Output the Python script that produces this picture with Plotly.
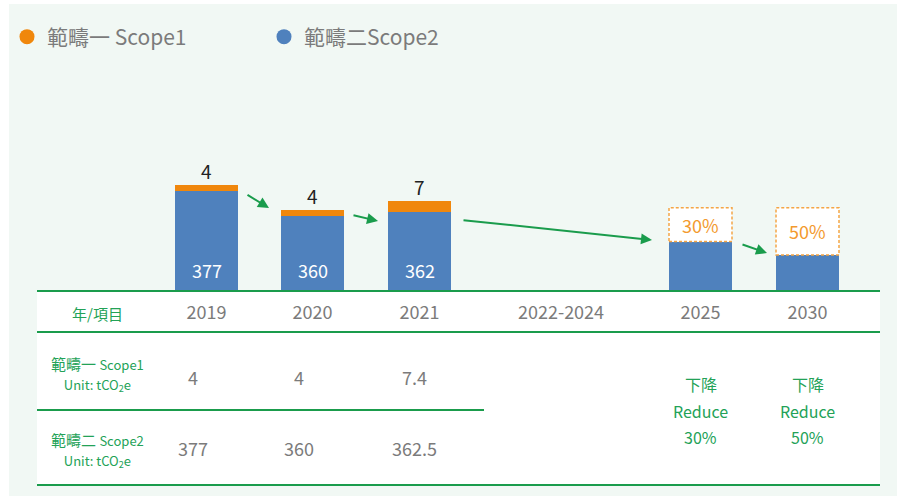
import plotly.graph_objects as go

# ---------------- data ----------------
years_hist = ["2019", "2020", "2021"]
scope1 = [4, 4, 7.4]
scope2 = [377, 360, 362.5]
period_labels = ["2019", "2020", "2021", "2022-2024", "2025", "2030"]
target_years = ["2025", "2030"]
target_pct = [30, 50]
target_scope2_bar = [343, 334]
target_band_top = [365.5, 365.5]
legend_names = ["範疇一 Scope1", "範疇二Scope2"]
row_names = ["範疇一", "範疇二"]
row_scopes = ["Scope1", "Scope2"]
unit_label = "Unit: tCO<sub>2</sub>e"
header_label = "年/項目"
reduce_words = ["下降", "Reduce"]

# ---------------- layout constants ----------------
W, H = 897, 496
COL_X = dict(zip(period_labels, [206.5, 312.5, 419.5, 561, 700.5, 807.5]))
VAL_X = dict(zip(years_hist, [193, 299, 414]))
BAR_W = 63
BASE_PX = 291
PX_PER_UNIT = 1.5
Y0 = 310

FONT = "Noto Sans CJK TC, Noto Sans, sans-serif"
BLUE = "#4f81bd"
ORANGE = "#f0870c"
ORANGE_LIGHT = "#f5a545"
GREEN = "#1a9c4c"
GREEN_TXT = "#23a257"
GRAY = "#7b7b7b"
BG = "#f1f8f4"


def px(x):
    return x / W


def py(y):
    return 1 - y / H


fig = go.Figure()

fig.add_trace(go.Bar(
    x=[COL_X[y] for y in years_hist + target_years],
    y=scope2 + target_scope2_bar,
    width=BAR_W, marker=dict(color=BLUE, line=dict(width=0)),
    showlegend=False, hoverinfo="skip"))
fig.add_trace(go.Bar(
    x=[COL_X[y] for y in years_hist],
    y=scope1,
    width=BAR_W, marker=dict(color=ORANGE, line=dict(width=0)),
    showlegend=False, hoverinfo="skip"))

for name, col in zip(legend_names, [ORANGE, BLUE]):
    fig.add_trace(go.Scatter(x=[None], y=[None], mode="markers", name=name,
                             marker=dict(size=15, color=col)))

shapes = []
# background panel
shapes.append(dict(type="rect", xref="paper", yref="paper", x0=px(9), x1=px(897),
                   y0=py(496), y1=py(4), fillcolor=BG, line=dict(width=0), layer="below"))
# table white area
shapes.append(dict(type="rect", xref="paper", yref="paper", x0=px(37), x1=px(880),
                   y0=py(485), y1=py(291), fillcolor="white", line=dict(width=0), layer="below"))
# table lines
for (xa, xb, yy) in [(37, 880, 291), (37, 880, 332), (37, 484, 410), (37, 880, 485)]:
    shapes.append(dict(type="line", xref="paper", yref="paper", x0=px(xa), x1=px(xb),
                       y0=py(yy), y1=py(yy), line=dict(color=GREEN, width=2), layer="above"))
# dashed target boxes
for yr, b, t in zip(target_years, target_scope2_bar, target_band_top):
    shapes.append(dict(type="rect", xref="x", yref="y",
                       x0=COL_X[yr] - BAR_W / 2, x1=COL_X[yr] + BAR_W / 2, y0=b, y1=t,
                       fillcolor="white", line=dict(color=ORANGE_LIGHT, width=1.5, dash="3px,2px")))

ann = []


def label(x, y, text, size, color, **kw):
    d = dict(x=x, y=y, text=text, showarrow=False, xanchor="center", yanchor="middle",
             font=dict(color=color, size=size, family=FONT))
    d.update(kw)
    ann.append(d)


# bar value labels
for yr, v in zip(years_hist, scope2):
    label(COL_X[yr], 0, f"{int(v)}", 18, "white", xref="x", yref="y domain", yshift=21)
for yr, v1, v2 in zip(years_hist, scope1, scope2):
    label(COL_X[yr], v1 + v2, f"{int(v1)}", 19, "#222222", xref="x", yref="y",
          yanchor="bottom", yshift=-1)
for yr, p, b, t in zip(target_years, target_pct, target_scope2_bar, target_band_top):
    label(COL_X[yr], (b + t) / 2, f"{p}%", 18, "#f39a2e", xref="x", yref="y")

# arrows (tail px, head px)
ARROWS = [((246, 194), (269, 208)), ((352, 215), (378, 221)),
          ((462, 220), (652, 240)), ((741, 244), (767, 253))]
for (tx, ty), (hx, hy) in ARROWS:
    ann.append(dict(x=px(hx), y=py(hy), xref="paper", yref="paper", ax=tx - hx, ay=ty - hy,
                    text="", showarrow=True, arrowhead=2, arrowsize=1.1, arrowwidth=2,
                    arrowcolor=GREEN))

# table texts
label(px(97), py(313), header_label, 15, GREEN_TXT, xref="paper", yref="paper")
for name, sc, yc in zip(row_names, row_scopes, [373.5, 449.5]):
    label(px(97), py(yc),
          f"{name} <span style='font-size:13px'>{sc}</span><br>"
          f"<span style='font-size:13px'>{unit_label}</span>",
          15, GREEN_TXT, xref="paper", yref="paper")
for row_vals, yy in [(scope1, 377), (scope2, 448)]:
    for yr, v in zip(years_hist, row_vals):
        label(px(VAL_X[yr]), py(yy), f"{v:g}", 18, GRAY, xref="paper", yref="paper")
for yr, p in zip(target_years, target_pct):
    for txt, yy in zip(reduce_words + [f"{p}%"], [384, 411, 437]):
        label(px(COL_X[yr]), py(yy), txt, 16, GREEN_TXT, xref="paper", yref="paper")

fig.update_layout(
    width=W, height=H, margin=dict(l=0, r=0, t=0, b=0),
    paper_bgcolor="white", plot_bgcolor="rgba(0,0,0,0)",
    barmode="relative", bargap=0,
    font=dict(family=FONT, color=GRAY),
    shapes=shapes, annotations=ann,
    legend=dict(orientation="h", x=px(7), xanchor="left", y=py(37), yanchor="middle",
                font=dict(size=21, color=GRAY, family=FONT), bgcolor="rgba(0,0,0,0)",
                entrywidth=212, itemclick=False, itemdoubleclick=False),
    xaxis=dict(range=[0, W], domain=[0, 1], showgrid=False, zeroline=False, showline=False,
               tickmode="array", tickvals=[COL_X[p] for p in period_labels], ticktext=period_labels,
               ticks="outside", ticklen=5, tickcolor="rgba(0,0,0,0)",
               tickfont=dict(size=18, color=GRAY, family=FONT), fixedrange=True),
    yaxis=dict(range=[Y0, Y0 + BASE_PX / PX_PER_UNIT], domain=[1 - BASE_PX / H, 1],
               visible=False, showgrid=False, zeroline=False, fixedrange=True),
)

fig.write_html("out.html", config={"displayModeBar": False},
               post_script="document.body.style.margin='0';")
